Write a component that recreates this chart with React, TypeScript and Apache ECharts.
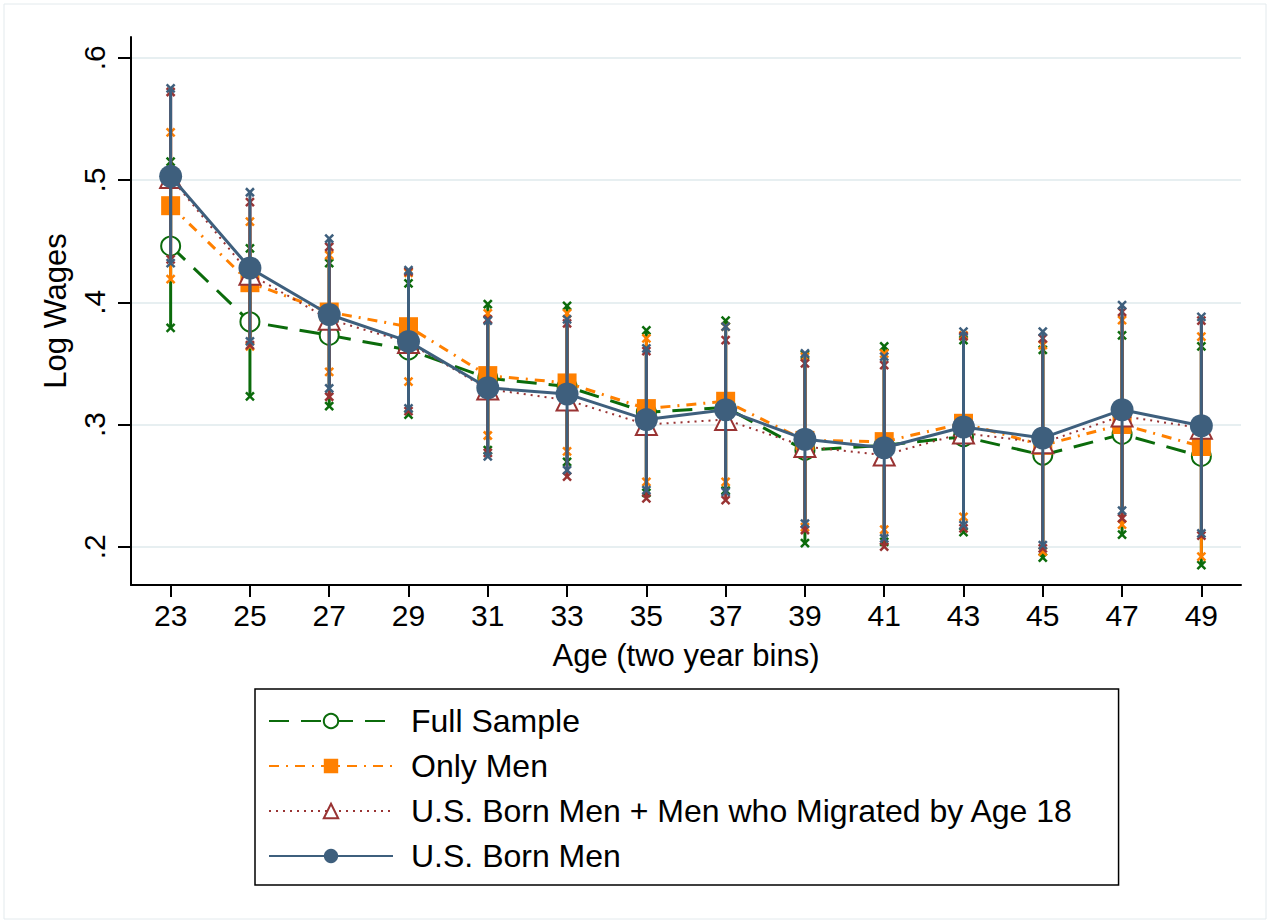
import React, { useEffect, useRef } from "react";
import * as echarts from "echarts";

// Age bins (two-year bins)
const ages = [23, 25, 27, 29, 31, 33, 35, 37, 39, 41, 43, 45, 47, 49];
const yTicks = [0.2, 0.3, 0.4, 0.5, 0.6];

// Full Sample: point estimates and confidence bounds
const fullSample = [0.446, 0.384, 0.373, 0.361, 0.338, 0.331, 0.310, 0.314, 0.279, 0.283, 0.290, 0.275, 0.292, 0.274];
const fullLo = [0.379, 0.323, 0.315, 0.308, 0.279, 0.2695, 0.244, 0.246, 0.203, 0.204, 0.212, 0.191, 0.210, 0.185];
const fullHi = [0.515, 0.444, 0.432, 0.4155, 0.3985, 0.397, 0.377, 0.385, 0.357, 0.364, 0.369, 0.361, 0.373, 0.364];

// Only Men
const onlyMen = [0.479, 0.416, 0.392, 0.380, 0.340, 0.334, 0.313, 0.319, 0.287, 0.286, 0.301, 0.283, 0.300, 0.282];
const menLo = [0.419, 0.364, 0.343, 0.335, 0.291, 0.278, 0.253, 0.253, 0.216, 0.214, 0.2245, 0.196, 0.218, 0.192];
const menHi = [0.539, 0.466, 0.4386, 0.424, 0.391, 0.391, 0.3705, 0.380, 0.3554, 0.358, 0.373, 0.365, 0.3854, 0.3718];

// U.S. Born Men + Men who Migrated by Age 18
const migrated = [0.502, 0.423, 0.386, 0.367, 0.329, 0.320, 0.300, 0.304, 0.282, 0.275, 0.293, 0.285, 0.307, 0.297];
const migLo = [0.435, 0.365, 0.3227, 0.311, 0.2767, 0.2573, 0.2396, 0.2382, 0.2137, 0.200, 0.215, 0.1987, 0.2233, 0.209];
const migHi = [0.572, 0.482, 0.4454, 0.425, 0.386, 0.3827, 0.360, 0.369, 0.350, 0.3486, 0.372, 0.3705, 0.3922, 0.385];

// U.S. Born Men
const usBorn = [0.503, 0.428, 0.390, 0.368, 0.330, 0.325, 0.304, 0.312, 0.288, 0.281, 0.298, 0.289, 0.312, 0.299];
const usLo = [0.432, 0.368, 0.3296, 0.3132, 0.274, 0.2627, 0.2464, 0.2448, 0.219, 0.2069, 0.2177, 0.2014, 0.2295, 0.2109];
const usHi = [0.575, 0.490, 0.452, 0.4263, 0.385, 0.386, 0.3623, 0.380, 0.3582, 0.3555, 0.3759, 0.3759, 0.3977, 0.3881];

const FONT = "'Liberation Sans', Arial, Helvetica, sans-serif";

type Spec = {
  name: string;
  mid: number[];
  lo: number[];
  hi: number[];
  color: string;
  symbol: string;
  symbolSize: number;
  lineType: any;
  lineWidth: number;
};

const specs: Spec[] = [
  { name: "Full Sample", mid: fullSample, lo: fullLo, hi: fullHi, color: "#0B6B0B", symbol: "emptyCircle", symbolSize: 19, lineType: [20, 12], lineWidth: 3 },
  { name: "Only Men", mid: onlyMen, lo: menLo, hi: menHi, color: "#FF8000", symbol: "rect", symbolSize: 19, lineType: [10, 7, 2, 7], lineWidth: 3 },
  { name: "U.S. Born Men + Men who Migrated by Age 18", mid: migrated, lo: migLo, hi: migHi, color: "#993333", symbol: "emptyTriangle", symbolSize: 21, lineType: [2, 5], lineWidth: 2 },
  { name: "U.S. Born Men", mid: usBorn, lo: usLo, hi: usHi, color: "#3E5F7D", symbol: "circle", symbolSize: 23, lineType: "solid", lineWidth: 3 },
];

// Vertical confidence bar with an "x" mark at each end
function capRenderer(color: string) {
  return (_params: any, api: any) => {
    const x = api.value(0);
    const lo = api.coord([x, api.value(1)]);
    const hi = api.coord([x, api.value(2)]);
    const s = 4;
    const st = { stroke: color, lineWidth: 2.5 };
    const cross = (p: number[]) => [
      { type: "line", shape: { x1: p[0] - s, y1: p[1] - s, x2: p[0] + s, y2: p[1] + s }, style: st },
      { type: "line", shape: { x1: p[0] - s, y1: p[1] + s, x2: p[0] + s, y2: p[1] - s }, style: st },
    ];
    return {
      type: "group",
      children: [
        { type: "line", shape: { x1: lo[0], y1: lo[1], x2: hi[0], y2: hi[1] }, style: { stroke: color, lineWidth: 3 } },
        ...cross(lo),
        ...cross(hi),
      ],
    };
  };
}

export default function App() {
  const ref = useRef<HTMLDivElement>(null);

  useEffect(() => {
    if (!ref.current) return;
    const chart = echarts.init(ref.current, undefined, { renderer: "svg" });

    const series: any[] = [];
    specs.forEach((s, i) => {
      series.push({
        name: s.name + " CI",
        type: "custom",
        z: 2 + i * 2,
        renderItem: capRenderer(s.color),
        encode: { x: 0, y: [1, 2] },
        data: ages.map((a, k) => [a, s.lo[k], s.hi[k]]),
      });
      series.push({
        name: s.name,
        type: "line",
        z: 3 + i * 2,
        data: ages.map((a, k) => [a, s.mid[k]]),
        symbol: s.symbol,
        symbolSize: s.symbolSize,
        showAllSymbol: true,
        itemStyle: { color: s.color, borderColor: s.color, borderWidth: s.symbol.startsWith("empty") ? 2.5 : 0 },
        lineStyle: { color: s.color, width: s.lineWidth, type: s.lineType },
        emphasis: { disabled: true },
      });
    });

    chart.setOption({
      animation: false,
      backgroundColor: "#fff",
      grid: { left: 131, right: 29, top: 37, bottom: 338, containLabel: false },
      xAxis: {
        type: "value",
        min: 22,
        max: 50,
        name: "Age (two year bins)",
        nameLocation: "middle",
        nameGap: 55,
        nameTextStyle: { fontSize: 31, fontFamily: FONT, color: "#000" },
        axisLine: { onZero: false, lineStyle: { color: "#000", width: 2 } },
        axisTick: { show: true, length: 12, lineStyle: { color: "#000", width: 2 }, customValues: ages },
        axisLabel: { fontSize: 30, fontFamily: FONT, color: "#000", margin: 15, customValues: ages },
        splitLine: { show: false },
      },
      yAxis: {
        type: "value",
        min: 0.1687,
        max: 0.617,
        name: "Log Wages",
        nameLocation: "middle",
        nameGap: 59,
        nameTextStyle: { fontSize: 31, fontFamily: FONT, color: "#000" },
        axisLine: { show: true, onZero: false, lineStyle: { color: "#000", width: 2 } },
        axisTick: { show: true, length: 13, lineStyle: { color: "#000", width: 2 }, customValues: yTicks },
        axisLabel: {
          fontSize: 30,
          fontFamily: FONT,
          color: "#000",
          rotate: 90,
          margin: 22,
          customValues: yTicks,
          formatter: (v: number) => v.toFixed(1).replace(/^0/, ""),
        },
        splitLine: { show: true, lineStyle: { color: "#E7EFF1", width: 2 } },
      },
      legend: {
        data: specs.map((s) => s.name),
        orient: "vertical",
        left: 255,
        top: 689,
        padding: [16, 45, 13, 13],
        itemWidth: 124,
        itemHeight: 18,
        itemGap: 13,
        borderColor: "#000",
        borderWidth: 1.5,
        selectedMode: false,
        textStyle: { fontSize: 32, fontFamily: FONT, color: "#000", lineHeight: 32, padding: [0, 0, 0, 13] },
      },
      graphic: [
        {
          type: "rect",
          silent: true,
          shape: { x: 4, y: 4, width: 1262, height: 915 },
          style: { fill: "none", stroke: "#E3EAED", lineWidth: 1 },
        },
      ],
      series,
    });

    return () => chart.dispose();
  }, []);

  return (
    <div
      ref={ref}
      style={{ position: "fixed", left: 0, top: 0, width: 1270, height: 923, background: "#fff" }}
    />
  );
}
